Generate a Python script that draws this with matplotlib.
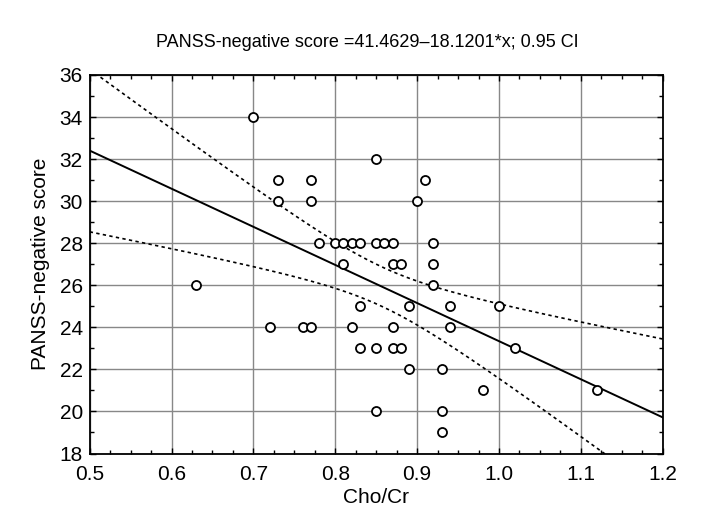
import numpy as np
import matplotlib
matplotlib.use("Agg")
import matplotlib.pyplot as plt
from matplotlib.ticker import MultipleLocator

# Cho/Cr vs PANSS-negative score
cho_cr = [0.70,
          0.85,
          0.73, 0.77, 0.91,
          0.73, 0.77, 0.90,
          0.78, 0.80, 0.81, 0.82, 0.83, 0.85, 0.86, 0.87, 0.92,
          0.81, 0.87, 0.88, 0.92,
          0.63, 0.92,
          0.83, 0.89, 0.94, 1.00,
          0.72, 0.76, 0.77, 0.82, 0.87, 0.94,
          0.83, 0.85, 0.87, 0.88, 1.02,
          0.89, 0.93,
          0.98, 1.12,
          0.85, 0.93,
          0.93]
panss = [34,
         32,
         31, 31, 31,
         30, 30, 30,
         28, 28, 28, 28, 28, 28, 28, 28, 28,
         27, 27, 27, 27,
         26, 26,
         25, 25, 25, 25,
         24, 24, 24, 24, 24, 24,
         23, 23, 23, 23, 23,
         22, 22,
         21, 21,
         20, 20,
         19]

intercept = 41.4629
slope = -18.1201
t_crit = 2.017  # t(0.975, n-2) for n = 45

plt.rcParams['font.family'] = ['Liberation Sans', 'DejaVu Sans']

x = np.array(cho_cr)
y = np.array(panss)
n = len(x)
resid = y - (intercept + slope * x)
s = np.sqrt(np.sum(resid ** 2) / (n - 2))
sxx = np.sum((x - x.mean()) ** 2)

xs = np.linspace(0.5, 1.2, 200)
fit = intercept + slope * xs
half = t_crit * s * np.sqrt(1.0 / n + (xs - x.mean()) ** 2 / sxx)

fig = plt.figure(figsize=(7.2, 5.17), dpi=100)
ax = fig.add_axes([0.1246, 0.1228, 0.7958, 0.7322])

ax.grid(True, color='#888888', linewidth=1.0)
ax.set_axisbelow(True)
ax.plot(xs, fit, color='black', linewidth=1.4)
ax.plot(xs, fit + half, color='black', linewidth=1.2, linestyle=(0, (2, 2)))
ax.plot(xs, fit - half, color='black', linewidth=1.2, linestyle=(0, (2, 2)))
ax.plot(x, y, linestyle='none', marker='o', markersize=6.5,
        markerfacecolor='white', markeredgecolor='black', markeredgewidth=1.3)

ax.set_xlim(0.5, 1.2)
ax.set_ylim(18, 36)
ax.xaxis.set_major_locator(MultipleLocator(0.1))
ax.xaxis.set_minor_locator(MultipleLocator(0.025))
ax.yaxis.set_major_locator(MultipleLocator(2))
ax.yaxis.set_minor_locator(MultipleLocator(1))
ax.set_xticklabels([f"{v:.1f}" for v in ax.get_xticks()])
ax.tick_params(which='both', direction='in', top=True, right=True, labelsize=15)
ax.tick_params(axis='x', pad=8)
ax.tick_params(axis='y', pad=5)
ax.tick_params(which='major', length=4, width=1)
ax.tick_params(which='minor', length=3, width=1)
for sp in ax.spines.values():
    sp.set_linewidth(1.3)

ax.set_xlabel('Cho/Cr', fontsize=15, labelpad=3)
ax.set_ylabel('PANSS-negative score', fontsize=15, labelpad=7)
fig.text(0.51, 0.918, 'PANSS-negative score =41.4629\u201318.1201*x; 0.95 CI',
         fontsize=13, ha='center', va='center')

fig.savefig('out.png', dpi=100)
